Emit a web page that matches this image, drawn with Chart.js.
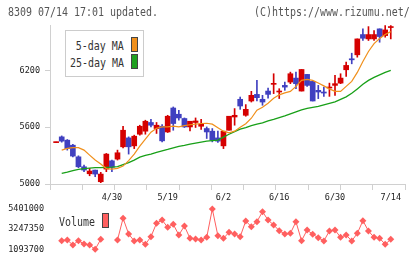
<!DOCTYPE html>
<html>
<head>
<meta charset="utf-8">
<title>8309 daily chart</title>
<script src="https://cdn.jsdelivr.net/npm/chart.js@4.4.1/dist/chart.umd.min.js"></script>
<style>
  html, body { margin: 0; padding: 0; background: #fff; }
  #wrap { position: relative; width: 420px; height: 259px; overflow: hidden; font-family: 'DejaVu Sans Mono', monospace; }
  #wrap canvas { position: absolute; left: 0; }
  #priceChart { top: 0; }
  #volChart { top: 190px; }
  .txt { position: absolute; font-size: 12px; line-height: 12px; white-space: nowrap; transform: scaleX(0.83); }
  .l { transform-origin: left center; }
  .r { transform-origin: right center; }
  .head { color: #555; }
  .leg { color: #333; }
  #legendBox { position: absolute; left: 65px; top: 30px; width: 77px; height: 45px; border: 1px solid #ccc; background: #fff; }
  .swatch { position: absolute; width: 5px; height: 13px; border: 1px solid #444; }
</style>
</head>
<body>
<div id="wrap">
  <canvas id="priceChart" width="420" height="195"></canvas>
  <canvas id="volChart" width="420" height="69"></canvas>

  <div class="txt head l" style="left:8px; top:6px;">8309 07/14 17:01 updated.</div>
  <div class="txt head r" style="right:10px; top:6px;">(C)https://www.rizumu.net/</div>

  <div id="legendBox"></div>
  <div class="txt leg r" style="right:296px; top:40px;">5-day MA</div>
  <div class="swatch" style="left:131px; top:37px; background:#f0901c;"></div>
  <div class="txt leg r" style="right:296px; top:57px;">25-day MA</div>
  <div class="swatch" style="left:131px; top:54px; background:#20a020;"></div>

  <div class="txt leg l" style="left:59px; top:216px;">Volume</div>
  <div class="swatch" style="left:102px; top:213px; background:#ff6060;"></div>
</div>

<script>
// Daily candles, oldest first (last one is 7/14)
const opens  = [5437,5498,5463,5410,5287,5182,5108,5147,5024,5158,5245,5263,5393,5487,5403,5526,5558,5650,5586,5610,5550,5803,5737,5692,5603,5650,5610,5586,5558,5487,5403,5568,5708,5895,5726,5877,5947,5895,5982,6053,5972,6042,6077,6119,5982,6158,6084,5990,5972,6014,6042,6066,6207,6323,6365,6579,6533,6533,6639,6568,6653];
const highs  = [5442,5508,5470,5418,5298,5200,5165,5147,5123,5323,5253,5358,5610,5498,5516,5621,5674,5684,5650,5628,5726,5814,5779,5698,5663,5698,5684,5603,5586,5558,5558,5716,5797,5919,5839,5979,6095,5937,6014,6165,6007,6077,6182,6182,6210,6158,6084,6042,6024,6066,6147,6165,6287,6382,6533,6639,6663,6621,6639,6674,6674];
const lows   = [5437,5442,5358,5287,5172,5130,5087,5077,5014,5130,5130,5253,5382,5316,5374,5516,5526,5603,5534,5445,5544,5568,5674,5597,5561,5597,5576,5481,5445,5439,5374,5568,5621,5789,5716,5866,5877,5832,5908,5955,5903,5990,6060,6007,5982,6032,5877,5902,5926,5926,5937,6060,6137,6270,6340,6516,6516,6516,6498,6551,6533];
const closes = [5442,5453,5375,5295,5182,5147,5137,5105,5105,5316,5176,5330,5568,5393,5505,5610,5663,5621,5621,5456,5716,5639,5698,5603,5663,5666,5632,5550,5463,5453,5558,5716,5726,5824,5789,5937,5912,5866,5947,6063,5982,6024,6165,6060,6210,6042,5877,5972,5961,6024,6060,6119,6253,6312,6533,6540,6579,6579,6558,6628,6660];

// Moving averages
const ma5  = [null,5358,5376,5384,5384,5358,5305,5253,5211,5163,5158,5165,5189,5247,5316,5400,5474,5547,5589,5603,5603,5611,5603,5616,5626,5632,5639,5642,5632,5595,5558,5540,5558,5600,5637,5695,5779,5810,5853,5905,5942,5963,5979,6032,6095,6105,6095,6068,6037,6005,5979,5979,6032,6084,6179,6295,6400,6484,6537,6579,6610];
const ma25 = [null,5113,5126,5142,5155,5163,5168,5172,5174,5176,5179,5184,5205,5226,5253,5284,5302,5316,5334,5351,5365,5382,5397,5407,5421,5432,5442,5453,5458,5463,5495,5526,5553,5579,5595,5616,5632,5647,5668,5684,5702,5721,5742,5763,5784,5800,5810,5821,5837,5853,5868,5895,5921,5958,6005,6053,6095,6126,6153,6179,6200];

// Volume (shares), gaps where nothing is drawn
const volumes = [null,1997000,2070000,1545000,2000000,1650000,1545000,1094000,2140000,null,null,2070000,4350000,2700000,1970000,2070000,1620000,2420000,3830000,4170000,3400000,3720000,2600000,3540000,2250000,2180000,2070000,2350000,5330000,2520000,2250000,2880000,2700000,2420000,4070000,3470000,3990000,5040000,4170000,3650000,3050000,2700000,2770000,3990000,2000000,3120000,2670000,2310000,1970000,3020000,3120000,2350000,2600000,1970000,2770000,4100000,3020000,2350000,2250000,1620000,2140000];

// Axis labels
const priceTicks = [5000, 5600, 6200];
const volumeTicks = [1093700, 3247350, 5401000];
const dateTickIdx = [10, 20, 30, 40, 50, 60];
const dateLabels = ['4/30', '5/19', '6/2', '6/16', '6/30', '7/14'];

const UP = '#d50000';
const DOWN = '#4040c0';
const AXIS = '#d0d0d0';
const X_MIN = -1.1;
const X_MAX = 62.55;
const tickFont = { family: 'DejaVu Sans Mono', size: 8.5 };

const dayIdx = opens.map((_, i) => i);
const candleColors = dayIdx.map(i => closes[i] >= opens[i] ? UP : DOWN);

// Price chart: wicks + bodies as floating bars, MAs as lines
const priceConfig = {
    type: 'bar',
    data: {
        datasets: [
            {
                type: 'line',
                data: dayIdx.map(i => ({ x: i, y: ma5[i] })),
                borderColor: '#f0901c',
                borderWidth: 1.2,
                pointRadius: 0,
                tension: 0,
                order: 0
            },
            {
                type: 'line',
                data: dayIdx.map(i => ({ x: i, y: ma25[i] })),
                borderColor: '#18a018',
                borderWidth: 1.3,
                pointRadius: 0,
                tension: 0,
                order: 0
            },
            {
                data: dayIdx.map(i => ({ x: i, y: [opens[i], closes[i]] })),
                backgroundColor: candleColors,
                barThickness: 5,
                minBarLength: 1,
                grouped: false,
                borderWidth: 0,
                order: 1
            },
            {
                data: dayIdx.map(i => ({ x: i, y: [lows[i], highs[i]] })),
                backgroundColor: candleColors,
                barThickness: 1,
                grouped: false,
                borderWidth: 0,
                order: 2
            }
        ]
    },
    options: {
        responsive: false,
        animation: false,
        layout: { padding: { top: 25, right: 15, left: 0, bottom: 0 } },
        plugins: { legend: { display: false }, tooltip: { enabled: false } },
        scales: {
            x: {
                type: 'linear',
                min: X_MIN,
                max: X_MAX,
                offset: false,
                afterBuildTicks: (scale) => {
                    const step = (X_MAX - X_MIN) / 11;
                    scale.ticks = Array.from({ length: 12 }, (_, k) => ({ value: X_MIN + k * step }));
                },
                afterFit: (scale) => { scale.height = 11; },
                ticks: { display: false },
                grid: { offset: false, drawOnChartArea: false, tickLength: 6, color: AXIS },
                border: { color: AXIS }
            },
            y: {
                min: 5000,
                max: 6680,
                afterBuildTicks: (scale) => { scale.ticks = priceTicks.map(v => ({ value: v })); },
                afterFit: (scale) => { scale.width = 50; },
                ticks: { font: tickFont, color: '#222', padding: 5, callback: v => String(v) },
                grid: { drawOnChartArea: false, tickLength: 5, color: AXIS },
                border: { color: AXIS }
            }
        }
    }
};

// Volume chart: diamonds joined by a thin line
const volumeConfig = {
    type: 'line',
    data: {
        datasets: [{
            data: dayIdx.map(i => ({ x: i, y: volumes[i] })),
            borderColor: '#ff5f5f',
            borderWidth: 1,
            pointStyle: 'rectRot',
            pointRadius: 3.5,
            pointBackgroundColor: '#ff5f5f',
            pointBorderWidth: 0,
            spanGaps: false,
            clip: false
        }]
    },
    options: {
        responsive: false,
        animation: false,
        layout: { padding: { top: 0, right: 15, left: 0, bottom: 6 } },
        plugins: { legend: { display: false }, tooltip: { enabled: false } },
        scales: {
            x: {
                type: 'linear',
                position: 'top',
                min: X_MIN,
                max: X_MAX,
                afterBuildTicks: (scale) => { scale.ticks = dateTickIdx.map(v => ({ value: v })); },
                afterFit: (scale) => { scale.height = 14; },
                ticks: {
                    font: tickFont,
                    color: '#222',
                    padding: 1,
                    maxRotation: 0,
                    autoSkip: false,
                    callback: v => dateLabels[dateTickIdx.indexOf(v)]
                },
                grid: { display: false, drawTicks: false },
                border: { display: false }
            },
            y: {
                min: 705000,
                max: 5853000,
                afterBuildTicks: (scale) => { scale.ticks = volumeTicks.map(v => ({ value: v })); },
                afterFit: (scale) => { scale.width = 50; },
                ticks: { font: tickFont, color: '#222', padding: 0, callback: v => String(v) },
                // invisible tick length only pushes labels away from the plot
                grid: { display: false, drawTicks: true, tickLength: 6 },
                border: { display: false }
            }
        }
    }
};

// Render both panels
const priceCtx = document.getElementById('priceChart').getContext('2d');
const volCtx = document.getElementById('volChart').getContext('2d');
new Chart(priceCtx, priceConfig);
new Chart(volCtx, volumeConfig);
</script>
</body>
</html>
